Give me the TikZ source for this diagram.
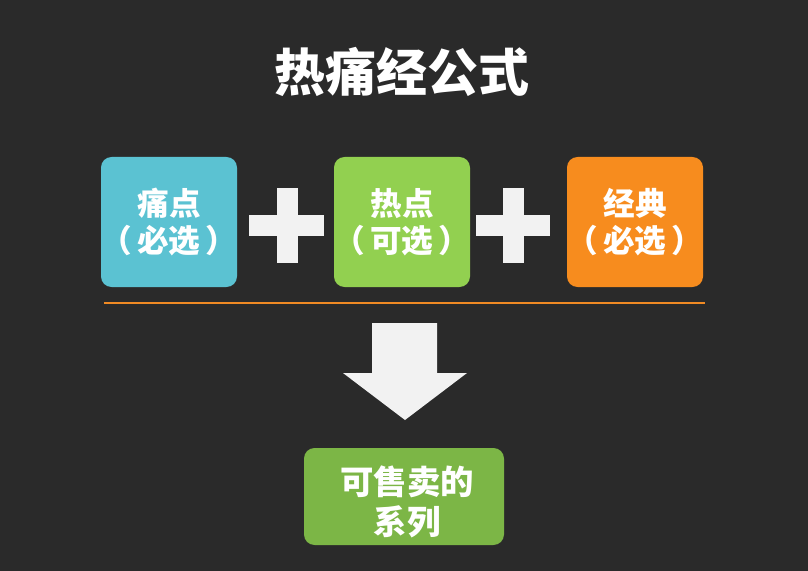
\documentclass[tikz,border=0pt]{standalone}
\usepackage{fontspec}
\newfontfamily\cjk{Noto Sans CJK SC}
\definecolor{bgdark}{RGB}{42,42,42}
\definecolor{tealbox}{RGB}{91,194,210}
\definecolor{greenbox}{RGB}{146,208,80}
\definecolor{orangebox}{RGB}{247,140,30}
\definecolor{olivebox}{RGB}{124,182,70}
\definecolor{rule}{RGB}{240,138,36}
\definecolor{offwhite}{RGB}{242,242,242}
\newcommand{\paren}[1]{\makebox[2.4cm]{（\hspace{3pt}#1\hspace{3pt}）}}
\tikzset{
  box/.style={rounded corners=6pt, minimum width=2.72cm, minimum height=2.6cm,
    inner sep=1pt, text=white, align=center, font=\cjk\bfseries\fontsize{18}{21}\selectfont},
}
\begin{document}
\begin{tikzpicture}[x=0.2mm, y=-0.2mm]
  \useasboundingbox (0,0) rectangle (808,571);
  \fill[bgdark] (0,0) rectangle (808,571);
  \node[text=white, font=\cjk\bfseries\fontsize{29}{34}\selectfont] (title) at (402,72) {热痛经公式};
  % the three parts
  \node[box, fill=tealbox] (pain) at (169,222) {痛点\\\paren{必选}};
  \node[box, fill=greenbox] (hot) at (402,222) {热点\\\paren{可选}};
  \node[box, fill=orangebox] (classic) at (635,222) {经典\\\paren{必选}};
  % plus signs
  \fill[offwhite] (249,215) rectangle (324,236);
  \fill[offwhite] (277,188) rectangle (298,263);
  \fill[offwhite] (476,215) rectangle (550,236);
  \fill[offwhite] (503,188) rectangle (524,263);
  \draw[rule, line width=1.7pt] (104,303) -- (705,303);
  % down arrow
  \fill[offwhite] (372,323) -- (437,323) -- (437,373) -- (467,373) -- (405,420)
    -- (343,373) -- (372,373) -- cycle;
  \fill[olivebox, rounded corners=6pt] (304,448) rectangle (504,545);
  \node[text=white, align=center, font=\cjk\bfseries\fontsize{19}{22.5}\selectfont]
    (series) at (407,502) {可售卖的\\系列};
\end{tikzpicture}
\end{document}
